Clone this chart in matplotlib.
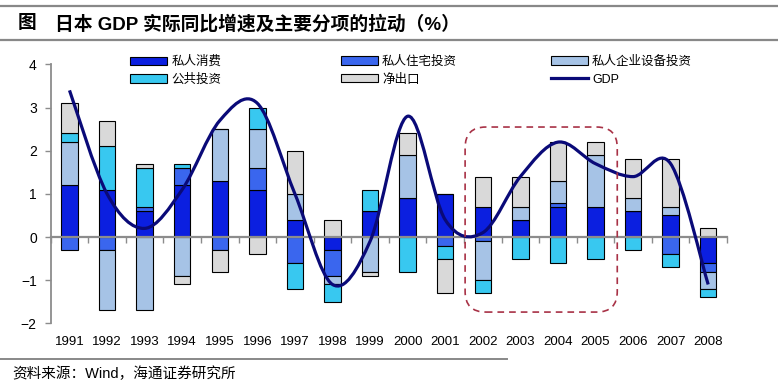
import matplotlib
matplotlib.use('Agg')
import matplotlib.pyplot as plt
import numpy as np
from matplotlib.path import Path
from matplotlib.patches import PathPatch, Patch, FancyBboxPatch
from matplotlib.lines import Line2D
import matplotlib.transforms as mtransforms

plt.rcParams['font.family'] = ['Liberation Sans', 'Noto Sans CJK SC', 'DejaVu Sans']

# 数据
years = ['1991', '1992', '1993', '1994', '1995', '1996', '1997', '1998', '1999',
         '2000', '2001', '2002', '2003', '2004', '2005', '2006', '2007', '2008']
consumption = [1.2, 1.1, 0.6, 1.2, 1.3, 1.1, 0.4, -0.3, 0.6, 0.9, 1.0, 0.7, 0.4, 0.7, 0.7, 0.6, 0.5, -0.6]
housing = [-0.3, -0.3, 0.1, 0.4, -0.3, 0.5, -0.6, -0.6, 0.0, 0.0, -0.2, -0.1, 0.0, 0.1, 0.0, 0.0, -0.4, -0.2]
equipment = [1.0, -1.4, -1.7, -0.9, 1.2, 0.9, 0.6, -0.2, -0.8, 1.0, 0.0, -0.9, 0.3, 0.5, 1.2, 0.3, 0.2, -0.4]
public = [0.2, 1.0, 0.9, 0.1, 0.0, 0.5, -0.6, -0.4, 0.5, -0.8, -0.3, -0.3, -0.5, -0.6, -0.5, -0.3, -0.3, -0.2]
net_exports = [0.7, 0.6, 0.1, -0.2, -0.5, -0.4, 1.0, 0.4, -0.1, 0.5, -0.8, 0.7, 0.7, 0.9, 0.3, 0.9, 1.1, 0.2]
gdp = [3.4, 1.0, 0.2, 1.1, 2.7, 3.1, 1.0, -1.1, -0.1, 2.8, 0.4, 0.1, 1.4, 2.2, 1.7, 1.4, 1.7, -1.1]

series = [
    ('私人消费', consumption, '#0b1fe0'),
    ('私人住宅投资', housing, '#3a66ee'),
    ('私人企业设备投资', equipment, '#a6c3e6'),
    ('公共投资', public, '#38c8f0'),
    ('净出口', net_exports, '#d9d9d9'),
]

fig = plt.figure(figsize=(7.78, 3.88), dpi=100)
ax = fig.add_axes([0.0652, 0.1668, 0.8692, 0.667])

x = np.arange(len(years))
pos_bottom = np.zeros(len(years))
neg_bottom = np.zeros(len(years))
for name, vals, color in series:
    v = np.array(vals)
    bottom = np.where(v >= 0, pos_bottom, neg_bottom)
    ax.bar(x, v, 0.44, bottom=bottom, color=color, edgecolor='black', linewidth=0.8, zorder=2)
    pos_bottom = pos_bottom + np.where(v > 0, v, 0)
    neg_bottom = neg_bottom + np.where(v < 0, v, 0)

# GDP 平滑曲线（贝塞尔）
pts = np.column_stack([x, gdp]).astype(float)
verts = [tuple(pts[0])]
codes = [Path.MOVETO]
n = len(pts)
for i in range(n - 1):
    p0, p1 = pts[i], pts[i + 1]
    pm = pts[i - 1] if i > 0 else p0
    p2 = pts[i + 2] if i + 2 < n else p1
    c1 = p0 + (p1 - pm) / 6
    c2 = p1 - (p2 - p0) / 6
    verts += [tuple(c1), tuple(c2), tuple(p1)]
    codes += [Path.CURVE4] * 3
ax.add_patch(PathPatch(Path(verts, codes), facecolor='none', edgecolor='#0a0a78',
                       linewidth=2.3, zorder=4))

ax.set_xlim(-0.5, len(years) - 0.5)
ax.set_ylim(-2, 4)
ax.set_yticks(range(-2, 5))
for s in ['top', 'right']:
    ax.spines[s].set_visible(False)
ax.spines['left'].set_color('#8c8c8c')
ax.spines['left'].set_linewidth(1.3)
ax.spines['bottom'].set_position(('data', 0))
ax.spines['bottom'].set_color('#8c8c8c')
ax.spines['bottom'].set_linewidth(1.6)
ax.set_xticks(np.arange(len(years) + 1) - 0.5)
ax.set_xticklabels([])
ax.tick_params(axis='x', direction='out', length=4, color='#8c8c8c', width=1)
ax.tick_params(axis='y', direction='out', length=4, color='#8c8c8c', width=1,
               labelsize=10, pad=6)

trans = mtransforms.blended_transform_factory(ax.transData, ax.transAxes)
for i, yr in enumerate(years):
    ax.text(i, -0.05, yr, transform=trans, ha='center', va='top', fontsize=9.5)

# 虚线圆角框
box = FancyBboxPatch((10.53, -1.74), 4.05, 4.29,
                     boxstyle='round,pad=0,rounding_size=0.55', mutation_aspect=0.87,
                     facecolor='none', edgecolor='#a83246', linewidth=1.2,
                     linestyle=(0, (4, 3)), zorder=5)
ax.add_patch(box)

# 图例
handles = [Patch(facecolor=c, edgecolor='black', linewidth=0.8) for _, _, c in series]
handles.append(Line2D([], [], color='#0a0a78', linewidth=2.3))
labels = [s[0] for s in series] + ['GDP']
cols = [[0, 3], [1, 4], [2, 5]]
anchors = [0.167, 0.438, 0.708]
for col, xa in zip(cols, anchors):
    fig.legend([handles[k] for k in col], [labels[k] for k in col],
               loc='upper left', bbox_to_anchor=(xa, 0.856), frameon=False,
               fontsize=9, handlelength=3.0, handleheight=0.65, handletextpad=0.3,
               labelspacing=0.45, borderpad=0, borderaxespad=0)

# 标题及线条
fig.add_artist(Line2D([0.0, 1.0], [1 - 6 / 388, 1 - 6 / 388], color='#888888', linewidth=1.6))
fig.add_artist(Line2D([0.0, 1.0], [1 - 40 / 388, 1 - 40 / 388], color='#888888', linewidth=1.6))
fig.text(18 / 778, 1 - 24 / 388, '图', fontsize=13.5, fontweight='bold', va='center', ha='left')
fig.text(55 / 778, 1 - 24 / 388, '日本 GDP 实际同比增速及主要分项的拉动（%）', fontsize=13.5,
         fontweight='bold', va='center', ha='left')
fig.add_artist(Line2D([0.0, 507 / 778], [1 - 359 / 388, 1 - 359 / 388], color='#888888', linewidth=1.4))
fig.text(12 / 778, 1 - 374 / 388, '资料来源：Wind，海通证券研究所', fontsize=10.5, va='center', ha='left')

fig.savefig('out.png', dpi=100)
